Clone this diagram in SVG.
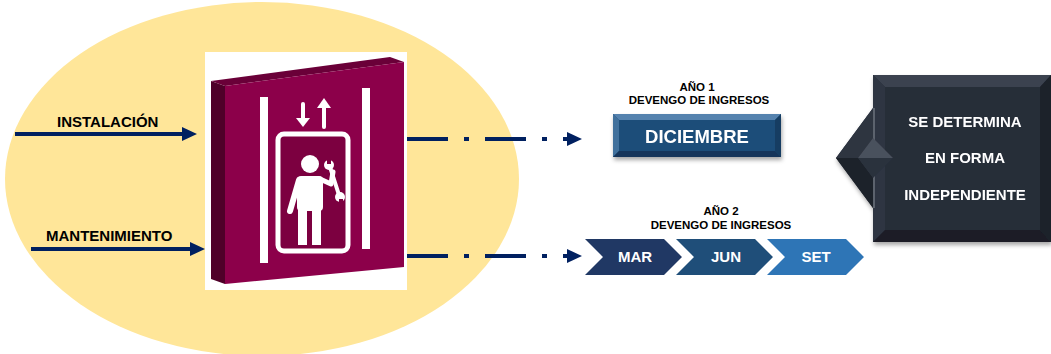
<svg xmlns="http://www.w3.org/2000/svg" width="1051" height="354" viewBox="0 0 1051 354">
<style>
  .lbl{font-family:"Liberation Sans",Arial,sans-serif;font-weight:bold;fill:#000}
  .wt{font-family:"Liberation Sans",Arial,sans-serif;font-weight:bold;fill:#fff;text-anchor:middle}
  .conn{stroke:#002060;stroke-width:4;fill:none}
  .dd{stroke-dasharray:41 16 5 16}
  .wl{stroke:#fff;fill:none;stroke-linecap:round}
</style>
<defs>
  <marker id="ah" markerUnits="userSpaceOnUse" markerWidth="16" markerHeight="16" viewBox="0 0 16 16" refX="1" refY="8" orient="auto">
    <path d="M0,1 L15,8 L0,15 Z" fill="#002060"/>
  </marker>
  <filter id="sh" x="-10%" y="-10%" width="130%" height="130%">
    <feDropShadow dx="1" dy="3" stdDeviation="2" flood-color="#000" flood-opacity="0.35"/>
  </filter>
</defs>
<rect width="1051" height="354" fill="#fff"/>
<ellipse id="bg-ellipse" cx="262" cy="179" rx="257" ry="177" fill="#ffe699"/>

<g id="elevator">
  <rect x="205" y="52" width="202" height="238" fill="#fff"/>
  <polygon points="211,81 225,86 225,284 211,279" fill="#4f0029"/>
  <polygon points="211,81 390,57 404,62 225,86" fill="#6a0038"/>
  <polygon points="225,86 404,62 404,267 225,284" fill="#8c004a"/>
  <rect x="260" y="97" width="8" height="166" fill="#fff"/>
  <rect x="362" y="88" width="8" height="161" fill="#fff"/>
  <path d="M303,104 V122" class="wl" stroke-width="4"/>
  <path d="M296,118 L303,127 L310,118 Z" fill="#fff"/>
  <path d="M324,127 V104" class="wl" stroke-width="4"/>
  <path d="M317,108 L324,98 L331,108 Z" fill="#fff"/>
  <rect x="278" y="134" width="70" height="117" rx="6" fill="#7c0040" stroke="#fff" stroke-width="5"/>
  <circle cx="310" cy="164" r="9" fill="#fff"/>
  <rect x="297" y="176" width="26" height="35" rx="4" fill="#fff"/>
  <path d="M299,180 L290,211" class="wl" stroke-width="6"/>
  <path d="M320,179 L331,184 L333,172" class="wl" stroke-width="5" stroke-linejoin="round"/>
  <rect x="298" y="204" width="9" height="41" fill="#fff"/>
  <rect x="312" y="204" width="9" height="41" fill="#fff"/>
  <path d="M330,167 L339,195" class="wl" stroke-width="4"/>
  <circle cx="329" cy="165" r="5" fill="#fff"/>
  <circle cx="340" cy="197" r="5" fill="#fff"/>
  <rect x="327" y="159" width="4" height="5" fill="#7c0040"/>
  <rect x="339" y="199" width="4" height="5" fill="#7c0040"/>
</g>

<g id="connectors">
  <line class="conn" x1="15" y1="134" x2="183" y2="134" marker-end="url(#ah)"/>
  <line class="conn" x1="31" y1="249" x2="191" y2="249" marker-end="url(#ah)"/>
  <line class="conn dd" x1="407" y1="139" x2="568" y2="139" marker-end="url(#ah)"/>
  <line class="conn dd" x1="407" y1="256" x2="568" y2="256" marker-end="url(#ah)"/>
</g>

<g id="label-instalacion"><text class="lbl" x="57" y="127" font-size="15">INSTALACIÓN</text></g>
<g id="label-mantenimiento"><text class="lbl" x="46" y="241" font-size="15">MANTENIMIENTO</text></g>

<g id="anio1">
  <text class="lbl" x="697" y="91" font-size="11.5" text-anchor="middle">AÑO 1</text>
  <text class="lbl" x="699" y="104" font-size="11.5" text-anchor="middle">DEVENGO DE INGRESOS</text>
</g>

<g id="diciembre" filter="url(#sh)">
  <rect x="613" y="114" width="168" height="43" fill="#1f4e79"/>
  <polygon points="613,114 781,114 775,120 619,120" fill="#5582ae"/>
  <polygon points="613,114 619,120 619,151 613,157" fill="#416f9c"/>
  <polygon points="781,114 781,157 775,151 775,120" fill="#173c62"/>
  <polygon points="613,157 619,151 775,151 781,157" fill="#13345a"/>
  <rect x="619" y="120" width="156" height="31" fill="#1f4e79"/>
  <text class="wt" x="697" y="143" font-size="18.5">DICIEMBRE</text>
</g>

<g id="anio2">
  <text class="lbl" x="721" y="215" font-size="11.5" text-anchor="middle">AÑO 2</text>
  <text class="lbl" x="721" y="229" font-size="11.5" text-anchor="middle">DEVENGO DE INGRESOS</text>
</g>

<g id="chevron-mar">
  <polygon points="585,239 664,239 682,257 664,275 585,275 603,257" fill="#203864"/>
  <text class="wt" x="635" y="262" font-size="15">MAR</text>
</g>
<g id="chevron-jun">
  <polygon points="676,239 755,239 773,257 755,275 676,275 694,257" fill="#1f4e79"/>
  <text class="wt" x="726" y="262" font-size="15">JUN</text>
</g>
<g id="chevron-set">
  <polygon points="767,239 846,239 864,257 846,275 767,275 785,257" fill="#2e75b6"/>
  <text class="wt" x="816" y="262" font-size="15">SET</text>
</g>

<g id="determina" filter="url(#sh)">
  <polygon points="873,108 836,158 873,208" fill="#262d39"/>
  <polygon points="873,108 836,158 858,158 873,138" fill="#2d3440"/>
  <polygon points="836,158 873,208 873,178 858,158" fill="#1c2129"/>
  <rect x="873" y="75" width="178" height="167" fill="#262d39"/>
  <polygon points="873,75 1051,75 1040,87 885,87" fill="#3b4350"/>
  <polygon points="873,75 885,87 885,230 873,242" fill="#2f3642"/>
  <polygon points="1051,75 1051,242 1040,230 1040,87" fill="#1d222b"/>
  <polygon points="873,242 885,230 1040,230 1051,242" fill="#1a1f27"/>
  <rect x="885" y="87" width="155" height="143" fill="#262d39"/>
  <line x1="874" y1="108" x2="874" y2="208" stroke="#8a9099" stroke-width="1"/>
  <polygon points="858,158 873,138 893,158" fill="#4a515d"/>
  <polygon points="858,158 893,158 873,178" fill="#2b313c"/>
  <text class="wt" x="965" y="127" font-size="15">SE DETERMINA</text>
  <text class="wt" x="965" y="163" font-size="15">EN FORMA</text>
  <text class="wt" x="965" y="200" font-size="15">INDEPENDIENTE</text>
</g>
</svg>
